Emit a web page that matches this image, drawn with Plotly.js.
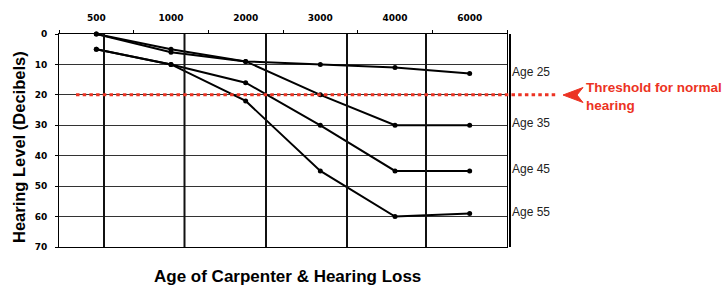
<!DOCTYPE html>
<html>
<head>
<meta charset="utf-8">
<script src="https://cdn.plot.ly/plotly-3.0.1.min.js"></script>
<style>html,body{margin:0;padding:0;background:#fff;}#chart{width:727px;height:289px;}</style>
</head>
<body>
<div id="chart"></div>
<script>
// ---- data ----
const frequencies = ['500', '1000', '2000', '3000', '4000', '6000'];
const seriesNames = ['Age 25', 'Age 35', 'Age 45', 'Age 55'];
const age25 = [0, 5, 9, 10, 11, 13];
const age35 = [0, 6, 9, 20, 30, 30];
const age45 = [5, 10, 16, 30, 45, 45];
const age55 = [5, 10, 22, 45, 60, 59];
const yTicks = [0, 10, 20, 30, 40, 50, 60, 70];
const threshold = 20;
const thresholdLabel = 'Threshold for normal<br>hearing';
const xTitle = 'Age of Carpenter &amp; Hearing Loss';
const yTitle = 'Hearing Level (Decibels)';

// ---- layout geometry (pixels) ----
const W = 727, H = 289;
const M = {l: 59, r: 220, t: 34, b: 42};
const PW = W - M.l - M.r, PH = H - M.t - M.b;
const px = x => (x - M.l) / PW;
const py = y => (H - M.b - y) / PH;

const RED = '#ec3323';
const allSeries = [age25, age35, age45, age55];

const traces = allSeries.map((vals, i) => ({
  type: 'scatter', mode: 'lines+markers',
  name: seriesNames[i], x: frequencies, y: vals,
  line: {color: '#000', width: 2},
  marker: {color: '#000', size: 5},
  cliponaxis: false, showlegend: false
}));

const vGrid = [104, 184.5, 266, 347, 426];
const shapes = vGrid.map(x => ({
  type: 'line', xref: 'paper', yref: 'paper', x0: px(x), x1: px(x), y0: 0, y1: 1,
  line: {color: '#111', width: 2}, layer: 'above'
}));
shapes.push({type: 'line', xref: 'paper', yref: 'paper', x0: px(510), x1: px(510), y0: 0, y1: 1,
  line: {color: '#000', width: 2}});
shapes.push({type: 'line', xref: 'paper', yref: 'y', x0: px(76), x1: px(557), y0: threshold, y1: threshold,
  line: {color: RED, width: 3, dash: '3.5px,3.2px'}, layer: 'above'});
// arrow head pointing left
const ah = [[563, 95], [583, 87.5], [577, 95], [583, 102.5]];
shapes.push({type: 'path', xref: 'paper', yref: 'paper',
  path: 'M' + ah.map(p => px(p[0]) + ',' + py(p[1])).join(' L') + ' Z',
  fillcolor: RED, line: {color: RED, width: 1}});

const annotations = allSeries.map((vals, i) => ({
  xref: 'paper', yref: 'y', x: px(510), y: vals[vals.length - 1],
  text: seriesNames[i], showarrow: false, xanchor: 'left', yanchor: 'middle', yshift: 2,
  font: {family: 'Liberation Sans, Arial, sans-serif', size: 12, color: '#222'}
}));
annotations.push({xref: 'paper', yref: 'paper', x: px(584), y: py(96),
  text: thresholdLabel, showarrow: false, xanchor: 'left', yanchor: 'middle', align: 'left',
  font: {family: 'Liberation Sans, Arial, sans-serif', size: 13.5, color: RED, weight: 'bold'}});
annotations.push({xref: 'paper', yref: 'paper', x: px(287), y: py(276),
  text: xTitle, showarrow: false, xanchor: 'center', yanchor: 'middle',
  font: {family: 'Liberation Sans, Arial, sans-serif', size: 17, color: '#000', weight: 'bold'}});
annotations.push({xref: 'paper', yref: 'paper', x: px(19), y: py(147),
  text: yTitle, showarrow: false, xanchor: 'center', yanchor: 'middle', textangle: -90,
  font: {family: 'Liberation Sans, Arial, sans-serif', size: 16.5, color: '#000', weight: 'bold'}});

const tickFont = {family: 'DejaVu Sans, sans-serif', size: 9, color: '#000', weight: 'bold'};

const layout = {
  width: W, height: H, margin: M,
  paper_bgcolor: '#fff', plot_bgcolor: '#fff',
  showlegend: false,
  xaxis: {
    type: 'category', categoryorder: 'array', categoryarray: frequencies,
    range: [-0.5, frequencies.length - 0.5], side: 'top',
    tickson: 'boundaries', ticks: 'outside', ticklen: 3, tickcolor: '#000', tickwidth: 1,
    ticklabelstandoff: 8,
    showline: true, linecolor: '#000', linewidth: 1, mirror: true,
    showgrid: false, zeroline: false, tickfont: tickFont, fixedrange: true
  },
  yaxis: {
    range: [70, 0], tickvals: yTicks, ticktext: yTicks.map(String),
    ticks: 'outside', ticklen: 3, tickcolor: '#000', tickwidth: 1,
    ticklabelstandoff: 6,
    showline: true, linecolor: '#000', linewidth: 1, mirror: true,
    showgrid: true, gridcolor: '#333', gridwidth: 1, zeroline: false,
    tickfont: tickFont, fixedrange: true
  },
  shapes: shapes, annotations: annotations
};

Plotly.newPlot('chart', traces, layout, {displayModeBar: false, staticPlot: true});
</script>
</body>
</html>
